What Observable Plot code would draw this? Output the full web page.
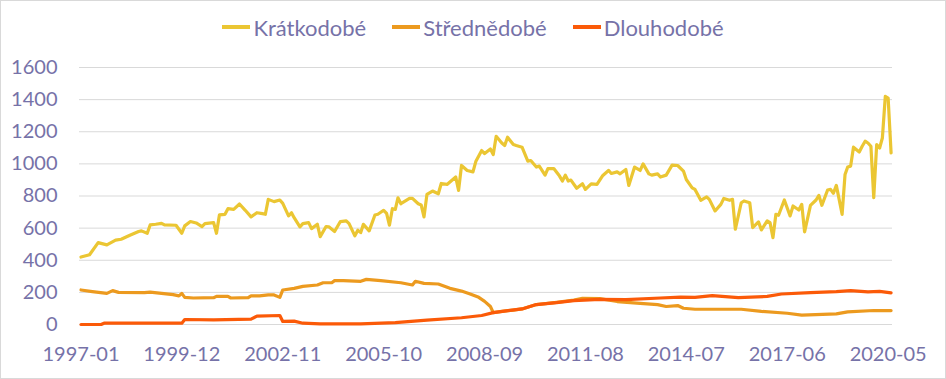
<!DOCTYPE html>
<html>
<head>
<meta charset="utf-8">
<script src="https://cdn.jsdelivr.net/npm/d3@7"></script>
<script src="https://cdn.jsdelivr.net/npm/@observablehq/plot@0.6"></script>
<style>
  html, body { margin: 0; padding: 0; background: #fff; }
  #wrap { position: relative; width: 946px; height: 379px; overflow: hidden; background: #fff; }
  #frame { position: absolute; left: 0; top: 0; width: 946px; height: 379px; box-sizing: border-box; border: 1px solid #d9d9d9; pointer-events: none; }
  #legend { height: 54px; display: flex; justify-content: center; align-items: center; gap: 26px;
            font-family: Lato, "Noto Sans", sans-serif; font-size: 22px; color: #7672a8; }
  #legend .item { display: inline-flex; align-items: center; }
  #legend .sw { display: inline-block; width: 28px; height: 4px; margin-right: 3px; }
  #chart svg { display: block; }
</style>
</head>
<body>
<div id="wrap">
  <div id="legend"></div>
  <div id="chart"></div>
  <div id="frame"></div>
</div>
<script>
const seriesNames = ["Krátkodobé", "Střednědobé", "Dlouhodobé"];
const xTickLabels = ["1997-01","1999-12","2002-11","2005-10","2008-09","2011-08","2014-07","2017-06","2020-05"];
const yTicks = [0,200,400,600,800,1000,1200,1400,1600];

const shortTerm = [
["1997-01",420],["1997-04",434],["1997-07",510],["1997-10",496],["1998-01",525],["1998-03",531],["1998-06",556],["1998-09",579],["1998-10",583],["1998-12",568],
["1999-01",620],["1999-03",624],["1999-05",630],["1999-06",620],["1999-10",618],["1999-12",568],["2000-01",614],["2000-03",641],["2000-05",632],["2000-07",610],
["2000-08",628],["2000-11",634],["2000-12",568],["2001-01",682],["2001-03",686],["2001-04",721],["2001-06",717],["2001-08",750],["2001-10",711],["2001-12",670],
["2002-02",696],["2002-04",690],["2002-05",686],["2002-06",779],["2002-08",765],["2002-10",775],["2002-11",754],["2003-01",676],["2003-02",696],["2003-03",665],
["2003-05",608],["2003-06",628],["2003-08",634],["2003-09",597],["2003-11",624],["2003-12",547],["2004-02",610],["2004-03",608],["2004-05",579],["2004-07",641],
["2004-09",645],["2004-10",628],["2004-12",552],["2005-01",587],["2005-02",572],["2005-03",624],["2005-05",583],["2005-07",682],["2005-08",686],["2005-10",711],
["2005-11",692],["2005-12",618],["2006-01",721],["2006-02",717],["2006-03",789],["2006-04",752],["2006-07",785],["2006-08",785],["2006-10",752],["2006-11",744],
["2006-12",670],["2007-01",810],["2007-03",831],["2007-05",814],["2007-06",878],["2007-08",872],["2007-11",918],["2007-12",835],["2008-01",990],["2008-03",959],
["2008-05",950],["2008-06",1017],["2008-08",1083],["2008-09",1064],["2008-11",1093],["2008-12",1058],["2009-01",1172],["2009-03",1130],["2009-04",1114],["2009-05",1166],
["2009-07",1120],["2009-08",1114],["2009-10",1104],["2009-12",1017],["2010-01",1021],["2010-03",980],["2010-04",986],["2010-06",930],["2010-07",971],["2010-09",971],
["2010-11",924],["2010-12",893],["2011-01",930],["2011-02",893],["2011-03",899],["2011-05",848],["2011-07",876],["2011-08",841],["2011-10",876],["2011-12",872],
["2012-02",928],["2012-04",959],["2012-05",940],["2012-07",950],["2012-08",938],["2012-10",965],["2012-11",866],["2013-01",980],["2013-03",959],["2013-04",1000],
["2013-06",938],["2013-07",930],["2013-09",938],["2013-10",918],["2013-12",930],["2014-02",992],["2014-04",990],["2014-06",955],["2014-07",903],["2014-09",851],
["2014-10",841],["2014-12",773],["2015-02",794],["2015-03",779],["2015-05",707],["2015-07",748],["2015-08",785],["2015-10",773],["2015-11",779],["2015-12",593],
["2016-02",758],["2016-03",769],["2016-05",758],["2016-06",603],["2016-08",639],["2016-09",589],["2016-11",645],["2016-12",634],["2017-01",541],["2017-02",686],
["2017-03",680],["2017-05",775],["2017-07",676],["2017-08",738],["2017-10",713],["2017-11",748],["2017-12",577],["2018-02",742],["2018-04",775],["2018-05",804],
["2018-06",742],["2018-08",837],["2018-09",841],["2018-10",817],["2018-11",866],["2019-01",686],["2019-02",934],["2019-03",981],["2019-04",986],["2019-05",1104],
["2019-07",1074],["2019-08",1110],["2019-09",1141],["2019-10",1130],["2019-11",1110],["2019-12",789],["2020-01",1120],["2020-02",1099],["2020-03",1161],["2020-04",1420],
["2020-05",1410],["2020-06",1068]
];

const mediumTerm = [
["1997-01",215],["1997-05",205],["1997-10",194],["1997-12",211],["1998-02",200],["1998-11",198],["1999-01",202],["1999-05",194],["1999-09",186],["1999-11",178],
["1999-12",194],["2000-01",169],["2000-04",165],["2000-11",167],["2000-12",175],["2001-04",175],["2001-05",165],["2001-11",167],["2001-12",178],["2002-03",178],
["2002-06",184],["2002-08",184],["2002-10",169],["2002-11",215],["2003-03",225],["2003-06",237],["2003-11",246],["2004-01",260],["2004-04",260],["2004-05",273],
["2004-08",273],["2005-02",269],["2005-04",281],["2005-09",273],["2006-04",260],["2006-08",246],["2006-09",269],["2006-12",256],["2007-05",252],["2007-09",225],
["2008-01",208],["2008-04",190],["2008-07",169],["2008-09",144],["2008-11",112],["2008-12",74],["2009-03",82],["2009-07",90],["2009-10",97],["2010-03",124],
["2010-10",138],["2011-04",152],["2011-07",163],["2012-01",161],["2012-07",143],["2013-03",132],["2013-09",124],["2013-12",112],["2014-04",118],["2014-06",101],
["2014-10",95],["2015-05",95],["2016-02",95],["2016-09",82],["2017-06",70],["2017-11",58],["2018-11",66],["2019-03",79],["2019-12",87],["2020-06",87]
];

const longTerm = [
["1997-01",0],["1997-08",0],["1997-09",8],["1999-12",8],["2000-01",31],["2000-11",29],["2001-12",33],["2002-02",52],["2002-10",56],["2002-11",19],
["2003-03",21],["2003-06",8],["2003-12",4],["2005-02",4],["2006-02",12],["2007-01",27],["2008-01",42],["2008-08",56],["2008-12",74],["2009-10",97],
["2010-03",124],["2010-10",136],["2011-04",149],["2012-01",157],["2012-10",155],["2013-10",165],["2014-05",170],["2014-10",169],["2015-04",180],["2016-01",167],
["2016-11",175],["2017-04",190],["2018-02",198],["2018-11",205],["2019-04",211],["2019-10",203],["2020-02",206],["2020-06",197]
];

const colors = ["#ebc633", "#ec9a1f", "#fb5a08"];
const textColor = "#7672a8";

const parse = d3.utcParse("%Y-%m");
const toRows = (arr, name) => arr.map(([m, v]) => ({date: parse(m), value: v, series: name}));
const series = [shortTerm, mediumTerm, longTerm].map((arr, i) => toRows(arr, seriesNames[i]));

// legend
const legend = document.getElementById("legend");
seriesNames.forEach((n, i) => {
  const it = document.createElement("span");
  it.className = "item";
  const sw = document.createElement("span");
  sw.className = "sw";
  sw.style.background = colors[i];
  it.appendChild(sw);
  it.appendChild(document.createTextNode(n));
  legend.appendChild(it);
});

const chart = Plot.plot({
  width: 946,
  height: 325,
  marginLeft: 79,
  marginRight: 54,
  marginTop: 13,
  marginBottom: 55,
  style: {fontFamily: "Lato, 'Noto Sans', sans-serif", fontSize: "20px", color: textColor, background: "transparent", overflow: "visible"},
  x: {
    type: "utc",
    domain: [new Date(Date.UTC(1996, 11, 16)), new Date(Date.UTC(2020, 5, 16))],
    ticks: xTickLabels.map(parse),
    tickFormat: d3.utcFormat("%Y-%m"),
    tickSize: 0,
    tickPadding: 22,
    label: null
  },
  y: {domain: [0, 1600], ticks: yTicks, tickFormat: d => String(d), tickSize: 0, tickPadding: 22, label: null},
  marks: [
    Plot.ruleY(yTicks, {stroke: "#d9d9d9", strokeWidth: 1}),
    ...series.map((rows, i) => Plot.line(rows, {
      x: "date", y: "value", stroke: colors[i], strokeWidth: 3.2,
      strokeLinejoin: "round", strokeLinecap: "round"
    }))
  ]
});
document.getElementById("chart").appendChild(chart);
</script>
</body>
</html>
